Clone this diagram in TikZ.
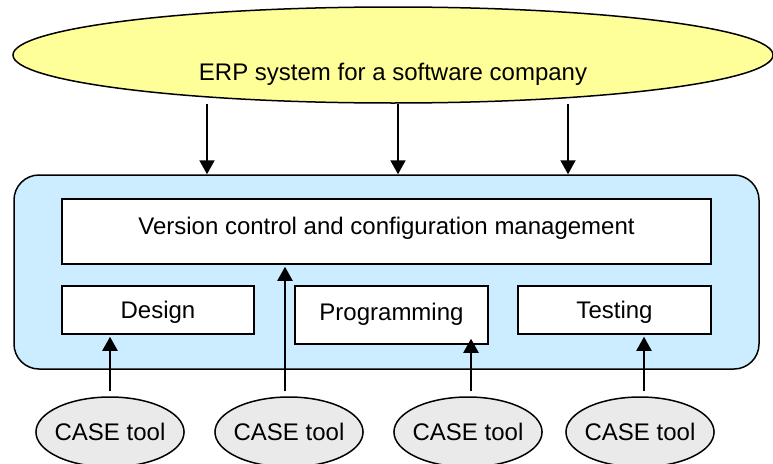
\documentclass[tikz,border=0pt]{standalone}
\usepackage{fontspec}
\setmainfont{Liberation Sans}
\usetikzlibrary{shapes.geometric,arrows.meta}

\definecolor{erpyellow}{HTML}{FFFF99}
\definecolor{toolblue}{HTML}{CCECFF}
\definecolor{casegray}{HTML}{EAEAEA}

\begin{document}
\begin{tikzpicture}[x=1pt,y=-1pt,
  font=\fontsize{24}{28}\selectfont,
  text height=17pt,text depth=0pt,
  box/.style={draw,line width=1.5pt,fill=white,inner sep=0pt},
  case/.style={ellipse,draw,line width=1.5pt,fill=casegray,minimum width=146pt,minimum height=70pt,inner ysep=0pt,inner xsep=-3pt},
  arr/.style={line width=2pt,-{Triangle[length=14pt,width=15pt]}}]
\clip (0,0) rectangle (773,463);

\node[ellipse,draw,line width=1.5pt,fill=erpyellow,minimum width=760pt,minimum height=96pt,inner sep=0pt,text height=51pt] (erp) at (393,55) {ERP system for a software company};

\node[draw,line width=1.5pt,fill=toolblue,rounded corners=25pt,minimum width=745pt,minimum height=194pt] (tools) at (386.5,272) {};
\node[box,minimum width=649pt,minimum height=65pt,text depth=12pt] (vcm) at (386.5,231.5) {Version control and configuration management};
\node[box,minimum width=192pt,minimum height=48pt] (design) at (158,310) {Design};
\node[box,minimum width=193pt,minimum height=58pt,text depth=6pt] (prog) at (391.5,315) {Programming};
\node[box,minimum width=193pt,minimum height=48pt] (test) at (614.5,310) {Testing};

\node[case] (c1) at (110,432) {CASE tool};
\node[case] (c2) at (289,432) {CASE tool};
\node[case] (c3) at (468,432) {CASE tool};
\node[case] (c4) at (640,432) {CASE tool};

% where the arrows run
\coordinate (t1) at (207,0);
\coordinate (t2) at (398,0);
\coordinate (t3) at (568,0);
\coordinate (a1) at (110,0);
\coordinate (a2) at (285,0);
\coordinate (a3) at (471,0);
\coordinate (a4) at (644,0);

\foreach \t in {t1,t2,t3}
  \draw[arr] (erp.south -| \t) -- (tools.north -| \t);

\draw[arr] ([yshift=5pt]c1.north -| a1) -- ([yshift=-2pt]design.south -| a1);
\draw[arr] ([yshift=5pt]c2.north -| a2) -- ([yshift=-2pt]vcm.south -| a2);
\draw[arr] ([yshift=5pt]c3.north -| a3) -- ([yshift=6pt]prog.south -| a3);
\draw[arr] ([yshift=5pt]c4.north -| a4) -- ([yshift=-2pt]test.south -| a4);
\end{tikzpicture}
\end{document}
